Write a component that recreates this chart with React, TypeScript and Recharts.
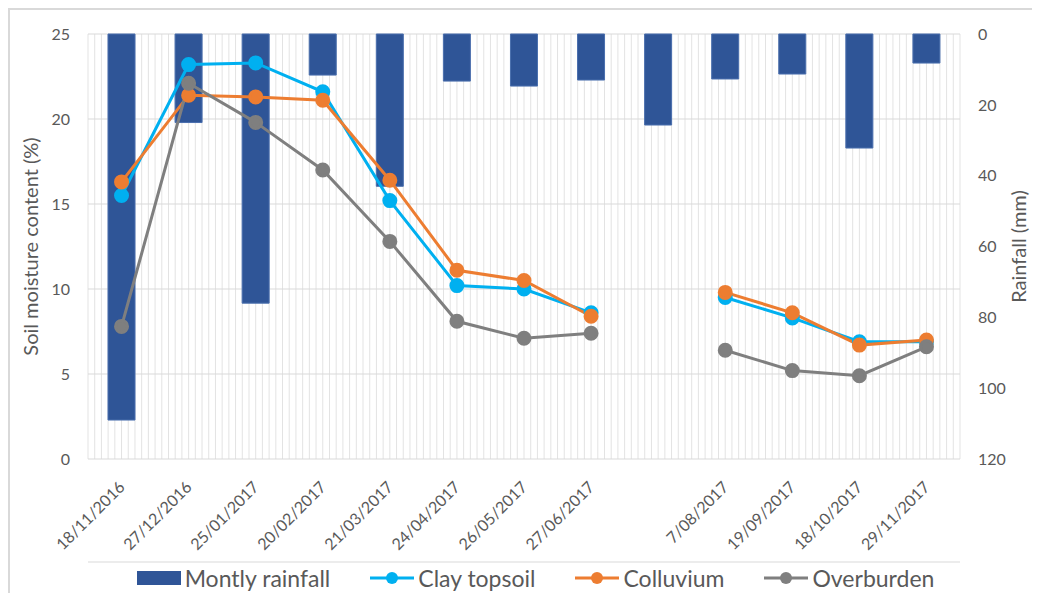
import { ComposedChart, Bar, Line, XAxis, YAxis, CartesianGrid, Legend } from 'recharts'

const dates = ['18/11/2016', '27/12/2016', '25/01/2017', '20/02/2017', '21/03/2017', '24/04/2017', '26/05/2017', '27/06/2017', '', '7/08/2017', '19/09/2017', '18/10/2017', '29/11/2017']
const rainfall = [109, 25, 76, 11.6, 43, 13.3, 14.7, 13, 25.7, 12.7, 11.3, 32.2, 8.2]
const clayTopsoil = [15.5, 23.2, 23.3, 21.6, 15.2, 10.2, 10.0, 8.6, null, 9.5, 8.3, 6.9, 6.9]
const colluvium = [16.3, 21.4, 21.3, 21.1, 16.4, 11.1, 10.5, 8.4, null, 9.8, 8.6, 6.7, 7.0]
const overburden = [7.8, 22.1, 19.8, 17.0, 12.8, 8.1, 7.1, 7.4, null, 6.4, 5.2, 4.9, 6.6]
const moistureTicks = [0, 5, 10, 15, 20, 25]
const rainTicks = [0, 20, 40, 60, 80, 100, 120]

const data = dates.map((date, i) => ({
  date,
  rain: rainfall[i],
  clay: clayTopsoil[i],
  coll: colluvium[i],
  over: overburden[i],
}))

// 10 thin grid lines per category, tick marks between categories
const minorPerCat = 10
const majorTicks = Array.from({ length: dates.length + 1 }, (_, i) => i * minorPerCat)

const font = 'Lato, "Open Sans", sans-serif'
const grey = '#595959'

const legendItems = [
  { name: 'Montly rainfall', color: '#2f5597', bar: true },
  { name: 'Clay topsoil', color: '#00b0f0' },
  { name: 'Colluvium', color: '#ed7d31' },
  { name: 'Overburden', color: '#7f7f7f' },
]

function LegendBox() {
  return (
    <div style={{ display: 'flex', justifyContent: 'center', gap: 40, fontFamily: font, fontSize: 23, color: grey, height: 30, alignItems: 'center', paddingLeft: 18 }}>
      {legendItems.map((it) => (
        <div key={it.name} style={{ display: 'flex', alignItems: 'center', gap: 4 }}>
          {it.bar ? (
            <svg width={44} height={16}><rect x={0} y={1} width={44} height={14} fill={it.color} /></svg>
          ) : (
            <svg width={44} height={16}>
              <line x1={0} y1={8} x2={44} y2={8} stroke={it.color} strokeWidth={3} />
              <circle cx={22} cy={8} r={6} fill={it.color} />
            </svg>
          )}
          <span>{it.name}</span>
        </div>
      ))}
    </div>
  )
}

function DateTick({ x, y, payload }: any) {
  const ty = y + 25
  return (
    <text x={x} y={ty} dy={6} transform={`rotate(-45 ${x} ${ty})`} textAnchor="end" fill={grey} fontSize={16} fontFamily={font}>
      {payload.value}
    </text>
  )
}

const minorLines = ({ offset }: any) => {
  const n = dates.length * minorPerCat
  return Array.from({ length: n + 1 }, (_, i) => offset.left + (offset.width * i) / n)
}

export default function App() {
  return (
    <div style={{ width: 1030, height: 583, border: '2px solid #d9d9d9', borderRight: 'none' }}>
      <ComposedChart width={1030} height={583} data={data} margin={{ top: 24, right: 5, bottom: 0, left: 8 }}>
        <CartesianGrid xAxisId="cat" yAxisId="left" stroke="#e3e3e3" horizontal={false} verticalCoordinatesGenerator={minorLines} />
        <CartesianGrid xAxisId="cat" yAxisId="left" stroke="#d9d9d9" vertical={false} />
        <XAxis xAxisId="marks" type="number" domain={[0, dates.length * minorPerCat]} ticks={majorTicks} interval={0} tick={false} height={1} tickSize={5} stroke="#d9d9d9" />
        <XAxis xAxisId="cat" dataKey="date" interval={0} axisLine={false} tickLine={false} tickSize={0} tickMargin={0} height={103} tick={<DateTick />} />
        <YAxis yAxisId="left" domain={[0, 25]} ticks={moistureTicks} width={70} axisLine={false} tickLine={false} tickSize={0} tickMargin={18}
          tick={{ fill: grey, fontSize: 16, fontFamily: font }}
          label={{ value: 'Soil moisture content (%)', angle: -90, position: 'insideLeft', offset: 13, style: { textAnchor: 'middle', fill: grey, fontSize: 20, fontFamily: font } }} />
        <YAxis yAxisId="right" orientation="right" reversed domain={[0, 120]} ticks={rainTicks} width={75} axisLine={false} tickLine={false} tickSize={0} tickMargin={18}
          tick={{ fill: grey, fontSize: 16, fontFamily: font }}
          label={{ value: 'Rainfall (mm)', angle: -90, position: 'insideRight', offset: 16, style: { textAnchor: 'middle', fill: grey, fontSize: 20, fontFamily: font } }} />
        <Bar xAxisId="cat" yAxisId="right" dataKey="rain" name="Montly rainfall" fill="#2f5597" stroke="#4a6fae" strokeWidth={1} barSize={27} isAnimationActive={false} />
        <Line xAxisId="cat" yAxisId="left" dataKey="clay" name="Clay topsoil" stroke="#00b0f0" strokeWidth={3} dot={{ r: 6, fill: '#00b0f0', stroke: '#00b0f0' }} isAnimationActive={false} />
        <Line xAxisId="cat" yAxisId="left" dataKey="coll" name="Colluvium" stroke="#ed7d31" strokeWidth={3} dot={{ r: 6, fill: '#ed7d31', stroke: '#ed7d31' }} isAnimationActive={false} />
        <Line xAxisId="cat" yAxisId="left" dataKey="over" name="Overburden" stroke="#7f7f7f" strokeWidth={3} dot={{ r: 6, fill: '#7f7f7f', stroke: '#7f7f7f' }} isAnimationActive={false} />
        <Legend verticalAlign="bottom" height={30} content={() => <LegendBox />} />
      </ComposedChart>
    </div>
  )
}
